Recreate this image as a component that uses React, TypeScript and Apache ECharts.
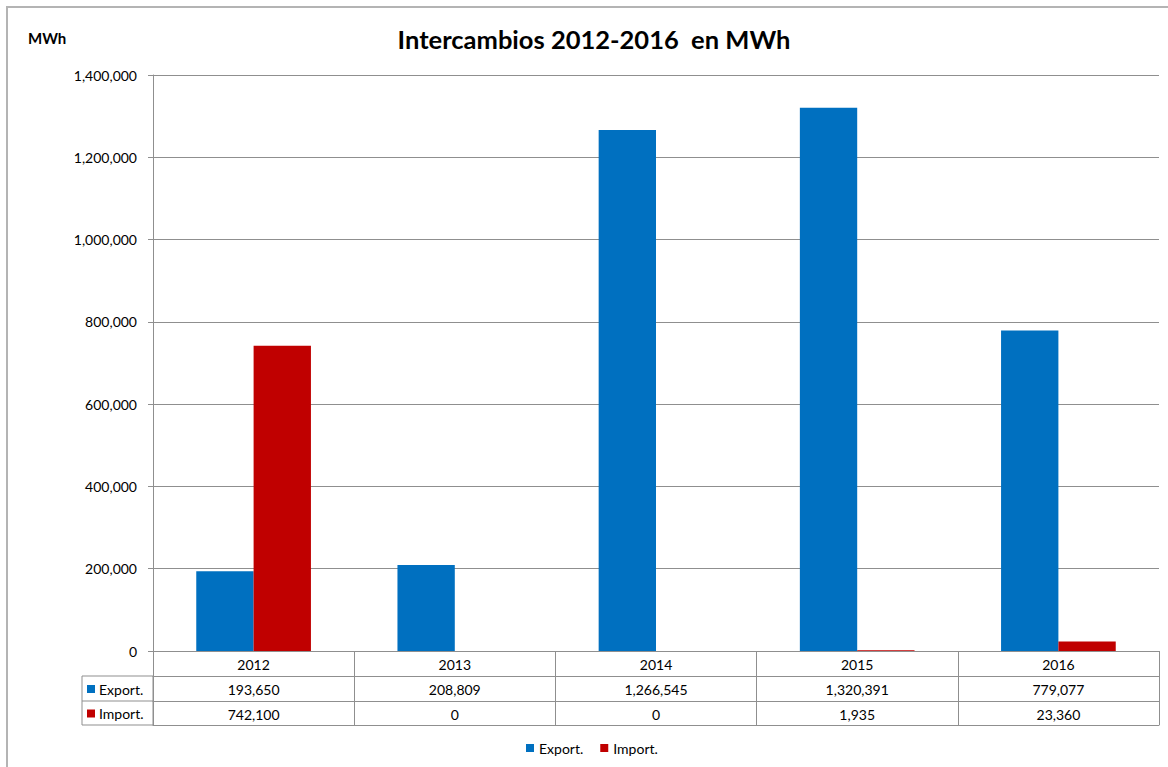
import React, { useEffect, useRef } from "react";
import * as echarts from "echarts";

const years = ["2012", "2013", "2014", "2015", "2016"];
const exportValues = [193650, 208809, 1266545, 1320391, 779077];
const importValues = [742100, 0, 0, 1935, 23360];
const seriesNames = ["Export.", "Import."];
const seriesColors = ["#0070C0", "#C00000"];
const yMax = 1400000;
const yStep = 200000;
const titleText = "Intercambios 2012-2016  en MWh";
const unitText = "MWh";

const FONT = "Lato";
const LINE = "#8f8f8f";

const fmt = (v: number) => Number(v).toLocaleString("en-US");

export default function App() {
  const ref = useRef<HTMLDivElement>(null);
  useEffect(() => {
    if (!ref.current) return;
    const chart = echarts.init(ref.current, null, { renderer: "svg" });
    const rows = [years, exportValues.map(fmt), importValues.map(fmt)];
    const offsets = [0, 25, 50];
    const tickLens = [25, 25, 24];
    const xAxes: any[] = rows.map((labels, i) => ({
      type: "category",
      data: years,
      gridIndex: 0,
      position: "bottom",
      offset: offsets[i],
      boundaryGap: true,
      axisLine: { show: true, lineStyle: { color: LINE, width: 1 } },
      axisTick: { show: true, interval: 0, length: tickLens[i], inside: false, lineStyle: { color: LINE } },
      axisLabel: {
        interval: 0,
        margin: 6,
        color: "#000",
        fontSize: 14,
        fontFamily: FONT,
        formatter: (_v: string, idx: number) => labels[idx],
      },
    }));
    xAxes.push({
      type: "category",
      data: years,
      gridIndex: 0,
      position: "bottom",
      offset: 74,
      axisLine: { show: true, lineStyle: { color: LINE } },
      axisTick: { show: false },
      axisLabel: { show: false },
    });

    const tableGraphics: any[] = [
      { type: "rect", shape: { x: 82, y: 676, width: 71, height: 49 }, style: { fill: "none", stroke: LINE, lineWidth: 1 } },
      { type: "line", shape: { x1: 82, y1: 701, x2: 153, y2: 701 }, style: { stroke: LINE, lineWidth: 1 } },
    ];
    seriesNames.forEach((n, i) => {
      const cy = 689 + i * 24.5;
      tableGraphics.push({ type: "rect", shape: { x: 87, y: cy - 4, width: 8, height: 8 }, style: { fill: seriesColors[i] } });
      tableGraphics.push({
        type: "text",
        style: { text: n, x: 99, y: cy, verticalAlign: "middle", fill: "#000", font: `14px ${FONT}` },
      });
    });

    chart.setOption({
      animation: false,
      backgroundColor: "#fff",
      title: {
        text: titleText,
        left: 589,
        top: 21,
        textAlign: "center",
        textStyle: { fontFamily: FONT, fontWeight: "bold", fontSize: 25.5, color: "#000" },
      },
      grid: { left: 153, right: 9, top: 75, bottom: 116, containLabel: false },
      legend: {
        data: seriesNames,
        left: 526,
        top: 741,
        padding: 0,
        icon: "rect",
        itemWidth: 8,
        itemHeight: 8,
        itemGap: 17,
        textStyle: { fontFamily: FONT, fontSize: 14, color: "#000" },
      },
      xAxis: xAxes,
      yAxis: {
        type: "value",
        min: 0,
        max: yMax,
        interval: yStep,
        axisLine: { show: true, lineStyle: { color: LINE } },
        axisTick: { show: true, length: 5, lineStyle: { color: LINE } },
        axisLabel: { margin: 16, color: "#000", fontSize: 14, fontFamily: FONT, formatter: (v: number) => fmt(v) },
        splitLine: { show: true, lineStyle: { color: LINE, width: 1 } },
      },
      graphic: [
        { type: "rect", shape: { x: 7, y: 7, width: 1200, height: 800 }, style: { fill: "none", stroke: "#b4b4b4", lineWidth: 2 } },
        { type: "text", style: { text: unitText, x: 28, y: 38, verticalAlign: "middle", fill: "#000", font: `bold 15px ${FONT}` } },
        ...tableGraphics,
      ],
      series: [
        {
          name: seriesNames[0],
          type: "bar",
          xAxisIndex: 0,
          data: exportValues,
          itemStyle: { color: seriesColors[0] },
          barGap: "0%",
          barCategoryGap: "43%",
        },
        {
          name: seriesNames[1],
          type: "bar",
          xAxisIndex: 0,
          data: importValues,
          itemStyle: { color: seriesColors[1] },
          barGap: "0%",
          barCategoryGap: "43%",
        },
      ],
    });
    return () => chart.dispose();
  }, []);
  return (
    <div
      ref={ref}
      style={{ position: "fixed", left: 0, top: 0, width: 1168, height: 767, background: "#fff" }}
    />
  );
}
